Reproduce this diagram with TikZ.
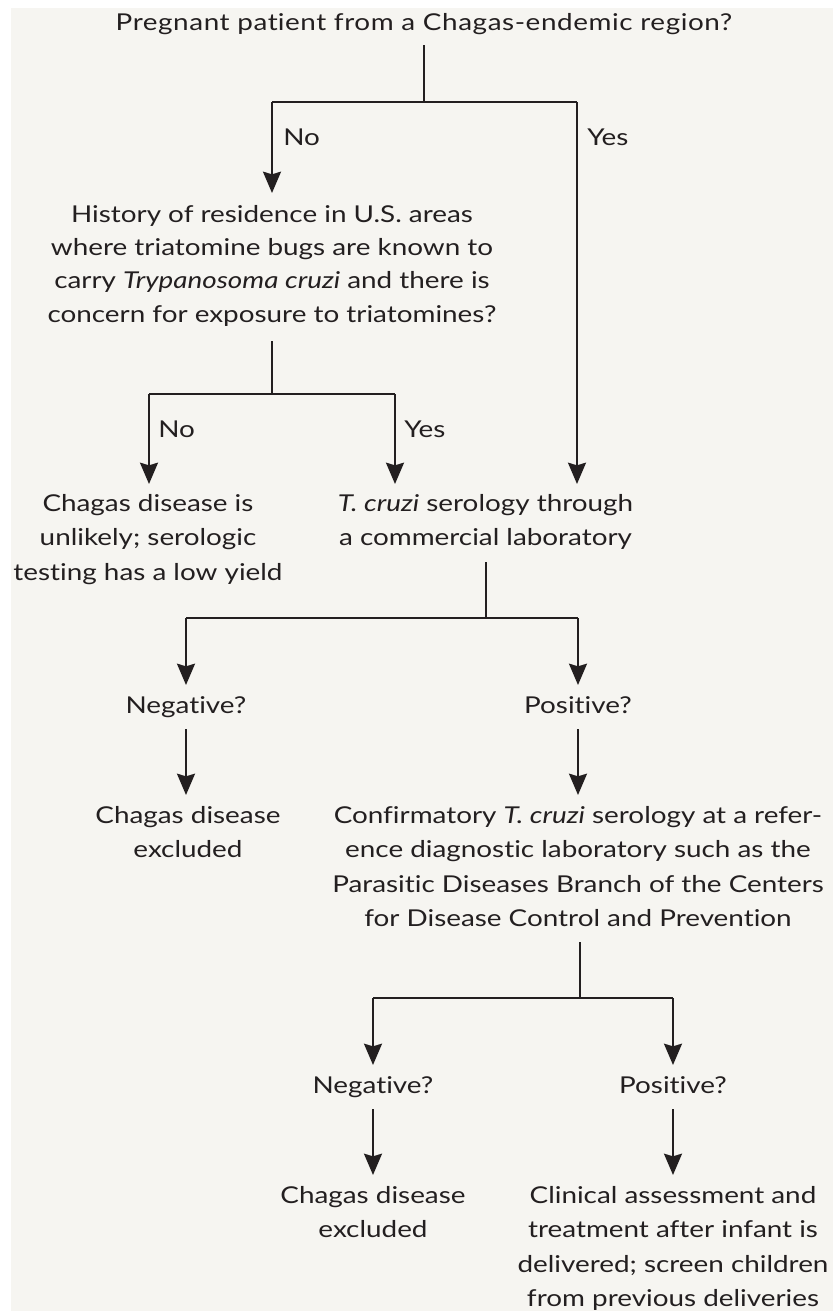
\documentclass[tikz,border=0pt]{standalone}
\usepackage{fontspec}
\setmainfont{Lato}[FakeStretch=1.2, RawFeature={-liga;-clig;-calt;-rlig;-dlig}]
\newfontfamily\titlefont{Lato}[FakeStretch=1.2, LetterSpace=2.5, RawFeature={-liga;-clig;-calt;-rlig;-dlig}]
\newcommand{\tii}{t\kern0pt i}
\usetikzlibrary{arrows.meta}
\definecolor{bg}{RGB}{246,245,241}
\definecolor{ink}{RGB}{35,31,32}
\begin{document}
\begin{tikzpicture}[x=0.75pt,y=-0.75pt,
  txt/.style={font=\fontsize{17.4}{25.8}\selectfont, text=ink, align=center, inner sep=0pt, anchor=base},
  lbl/.style={font=\fontsize{17.4}{25.8}\selectfont, text=ink, inner sep=0pt, anchor=base west},
  conn/.style={draw=ink, line width=1.5pt},
  arr/.style={conn, -{Stealth[length=16pt,width=13.5pt,inset=2pt]}}]
\useasboundingbox (0,0) rectangle (835,1311);
\fill[white] (0,0) rectangle (835,1311);
\fill[bg] (11,8) rectangle (833,1311);

% nodes (anchor base = baseline of the last line)
\node[txt, font=\titlefont\fontsize{17.4}{25.8}\selectfont] (q1) at (424,30) {Pregnant pa\tii ent from a Chagas-endemic region?};
\node[txt, font=\fontsize{17.4}{25}\selectfont] (q2) at (272,322) {History of residence in U.S. areas\\where triatomine bugs are known to\\carry \textit{Trypanosoma cruzi} and there is\\concern for exposure to triatomines?};
\node[txt] (unl) at (148,580) {Chagas disease is\\unlikely; serologic\\tes\tii ng has a low yield};
\node[txt] (ser) at (485.5,545.5) {\textit{T. cruzi} serology through\\a commercial laboratory};
\node[txt] (neg1) at (186,713) {Nega\tii ve?};
\node[txt] (pos1) at (578,713) {Posi\tii ve?};
\node[txt] (exc1) at (188,857.5) {Chagas disease\\excluded};
\node[txt] (conf) at (578,926.5) {Confirmatory \textit{T. cruzi} serology at a refer-\\ence diagnos\tii c laboratory such as the\\Parasi\tii c Diseases Branch of the Centers\\for Disease Control and Preven\tii on};
\node[txt] (neg2) at (373,1093) {Nega\tii ve?};
\node[txt] (pos2) at (673,1093) {Posi\tii ve?};
\node[txt] (exc2) at (373,1237.5) {Chagas disease\\excluded};
\node[txt] (clin) at (673,1306.5) {Clinical assessment and\\treatment after infant is\\delivered; screen children\\from previous deliveries};

% labels
\node[lbl] (no1) at (283,145) {No};
\node[lbl] (yes1) at (587,145) {Yes};
\node[lbl] (no2) at (158,437) {No};
\node[lbl] (yes2) at (404,437) {Yes};

% junction coordinates
\coordinate (q1s) at (424,45);
\coordinate (j1) at (424,102);
\coordinate (j1l) at (272,102);
\coordinate (j1r) at (577,102);
\coordinate (q2t) at (272,193);
\coordinate (sert) at (577,484);
\coordinate (q2s) at (272,341);
\coordinate (j2) at (272,394);
\coordinate (j2l) at (149,394);
\coordinate (j2r) at (395,394);
\coordinate (unlt) at (149,484);
\coordinate (sert2) at (395,484);
\coordinate (sers) at (485.5,562);
\coordinate (j3) at (485.5,618);
\coordinate (j3l) at (186,618);
\coordinate (j3r) at (578,618);
\coordinate (neg1t) at (186,685);
\coordinate (pos1t) at (578,685);
\coordinate (neg1s) at (186,729);
\coordinate (exc1t) at (186,795);
\coordinate (pos1s) at (578,729);
\coordinate (conft) at (578,795);
\coordinate (confs) at (580,942);
\coordinate (j4) at (580,998);
\coordinate (j4l) at (373,998);
\coordinate (j4r) at (673,998);
\coordinate (neg2t) at (373,1065);
\coordinate (pos2t) at (673,1065);
\coordinate (neg2s) at (373,1109);
\coordinate (exc2t) at (373,1175);
\coordinate (pos2s) at (673,1109);
\coordinate (clint) at (673,1175);

% connectors
\draw[conn] (q1s) -- (j1);
\draw[conn] (j1l) -- (j1r);
\draw[arr] (j1l) -- (q2t);
\draw[arr] (j1r) -- (sert);
\draw[conn] (q2s) -- (j2);
\draw[conn] (j2l) -- (j2r);
\draw[arr] (j2l) -- (unlt);
\draw[arr] (j2r) -- (sert2);
\draw[conn] (sers) -- (j3);
\draw[conn] (j3l) -- (j3r);
\draw[arr] (j3l) -- (neg1t);
\draw[arr] (j3r) -- (pos1t);
\draw[arr] (neg1s) -- (exc1t);
\draw[arr] (pos1s) -- (conft);
\draw[conn] (confs) -- (j4);
\draw[conn] (j4l) -- (j4r);
\draw[arr] (j4l) -- (neg2t);
\draw[arr] (j4r) -- (pos2t);
\draw[arr] (neg2s) -- (exc2t);
\draw[arr] (pos2s) -- (clint);
\end{tikzpicture}
\end{document}
